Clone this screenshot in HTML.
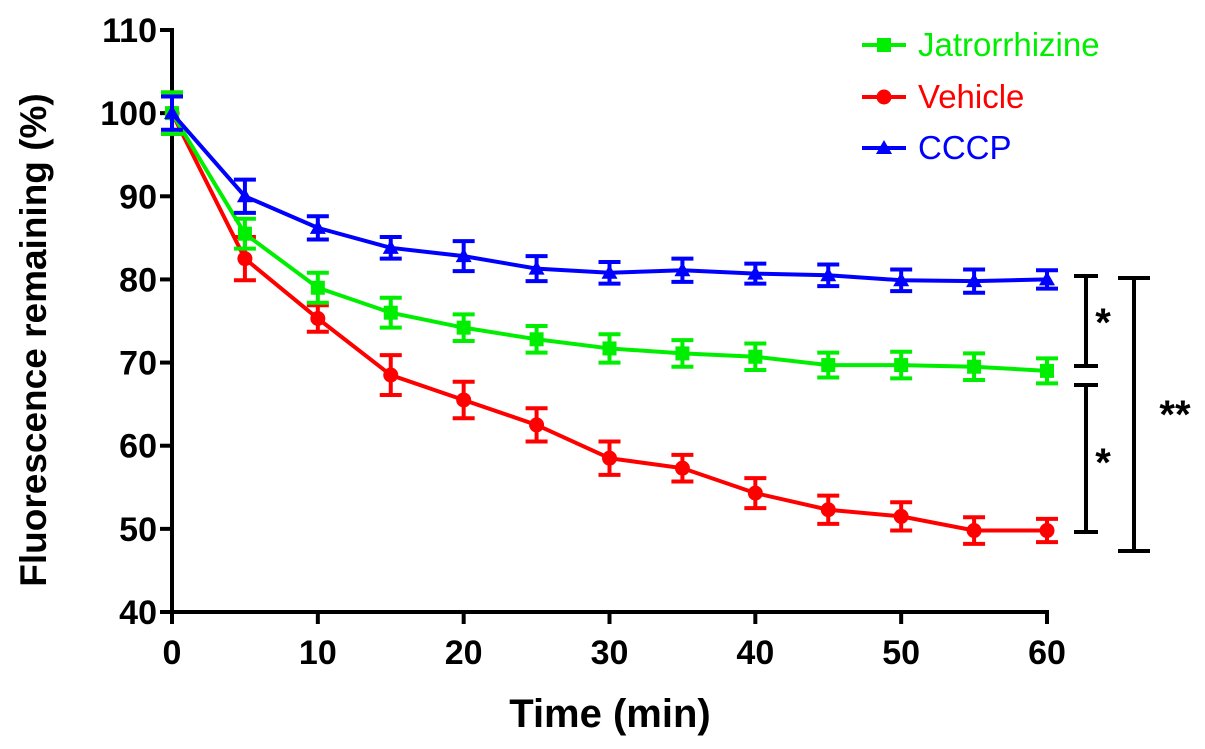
<!DOCTYPE html>
<html><head><meta charset="utf-8"><style>
body{margin:0;background:#fff}
svg{display:block;font-family:"Liberation Sans",Arial,sans-serif}
</style></head><body>
<svg id="chart" width="1205" height="749" viewBox="0 0 1205 749"></svg>
<script>
const times=[0,5,10,15,20,25,30,35,40,45,50,55,60];
const jatro=[100,85.5,79,76,74.2,72.8,71.7,71.1,70.7,69.7,69.7,69.5,69.0];
const jatroErr=[2.5,1.8,1.8,1.8,1.6,1.6,1.7,1.6,1.6,1.5,1.6,1.6,1.5];
const vehicle=[100,82.5,75.3,68.5,65.5,62.5,58.5,57.3,54.3,52.3,51.5,49.8,49.8];
const vehicleErr=[2.5,2.6,1.6,2.4,2.2,2.0,2.0,1.6,1.8,1.7,1.7,1.6,1.4];
const cccp=[100,90,86.2,83.8,82.8,81.3,80.8,81.1,80.7,80.5,79.9,79.8,80.0];
const cccpErr=[2.0,2.0,1.4,1.3,1.8,1.5,1.3,1.4,1.2,1.3,1.3,1.4,1.1];
const yTicks=[40,50,60,70,80,90,100,110];
const xTicks=[0,10,20,30,40,50,60];
const NS="http://www.w3.org/2000/svg";
const svg=document.getElementById('chart');
const X=v=>172+v*(1047-172)/60;
const Y=v=>612-(v-40)*(612-30)/70;
function el(t,a,p){const e=document.createElementNS(NS,t);for(const k in a)e.setAttribute(k,a[k]);(p||svg).appendChild(e);return e;}
let ax=el('g',{});


el('line',{x1:172,y1:28,x2:172,y2:614,stroke:'#000','stroke-width':4},ax);
el('line',{x1:170,y1:612,x2:1049,y2:612,stroke:'#000','stroke-width':4},ax);
yTicks.forEach(v=>{
 el('line',{x1:160,y1:Y(v),x2:172,y2:Y(v),stroke:'#000','stroke-width':4},ax);
 const t=el('text',{x:157,y:Y(v)+12,'text-anchor':'end','font-size':34,'font-weight':'bold'},ax);t.textContent=v;
 
 
});
xTicks.forEach(v=>{
 el('line',{x1:X(v),y1:612,x2:X(v),y2:624,stroke:'#000','stroke-width':4},ax);
 const t=el('text',{x:X(v),y:664,'text-anchor':'middle','font-size':34,'font-weight':'bold'},ax);t.textContent=v;
 
 
});
let yt=el('text',{x:0,y:0,transform:'translate(46,340) rotate(-90)','text-anchor':'middle','font-size':37,'font-weight':'bold'});
yt.textContent='Fluorescence remaining (%)';


let xt=el('text',{x:610,y:727,'text-anchor':'middle','font-size':40,'font-weight':'bold'});
xt.textContent='Time (min)';


function marker(g,shape,x,y,c){
 if(shape==='sq')el('rect',{x:x-7,y:y-7,width:14,height:14,fill:c},g);
 else if(shape==='ci')el('circle',{cx:x,cy:y,r:7.5,fill:c},g);
 else el('polygon',{points:`${x},${y-8} ${x-8},${y+6} ${x+8},${y+6}`,fill:c},g);
}
function series(name,vals,errs,c,shape){
 const g=el('g',{});
 
 
 el('polyline',{points:vals.map((v,i)=>X(times[i])+','+Y(v)).join(' '),fill:'none',stroke:c,'stroke-width':4},g);
 vals.forEach((v,i)=>{
  const x=X(times[i]),y1=Y(v+errs[i]),y2=Y(v-errs[i]);
  el('line',{x1:x,y1:y1,x2:x,y2:y2,stroke:c,'stroke-width':4},g);
  el('line',{x1:x-11,y1:y1,x2:x+11,y2:y1,stroke:c,'stroke-width':4},g);
  el('line',{x1:x-11,y1:y2,x2:x+11,y2:y2,stroke:c,'stroke-width':4},g);
  marker(g,shape,x,Y(v),c);
 });
}
series('vehicle',vehicle,vehicleErr,'#ff0000','ci');
series('jatrorrhizine',jatro,jatroErr,'#00ee00','sq');
series('cccp',cccp,cccpErr,'#0000ff','tr');
[['Jatrorrhizine','#00ee00','sq',45],['Vehicle','#ff0000','ci',97],['CCCP','#0000ff','tr',148]].forEach(([n,c,s,y])=>{
 const g=el('g',{});
 
 
 el('line',{x1:862,y1:y,x2:906,y2:y,stroke:c,'stroke-width':4},g);
 marker(g,s,884,y,c);
 const t=el('text',{x:918,y:y+11,'font-size':33,fill:c},g);t.textContent=n;
});
function bracket(x,y1,y2,w,lab,lx,ly){
 const g=el('g',{});
 
 
 el('line',{x1:x,y1:y1,x2:x,y2:y2,stroke:'#000','stroke-width':4},g);
 el('line',{x1:x-w,y1:y1,x2:x+w,y2:y1,stroke:'#000','stroke-width':4},g);
 el('line',{x1:x-w,y1:y2,x2:x+w,y2:y2,stroke:'#000','stroke-width':4},g);
 const t=el('text',{x:lx,y:ly,'text-anchor':'middle','font-size':40,'font-weight':'bold'},g);t.textContent=lab;
}
bracket(1086,276,366,12,'*',1103,336);
bracket(1086,385,532,12,'*',1103,476);
bracket(1134,278,551,16,'**',1175,428);
</script>
</body></html>
